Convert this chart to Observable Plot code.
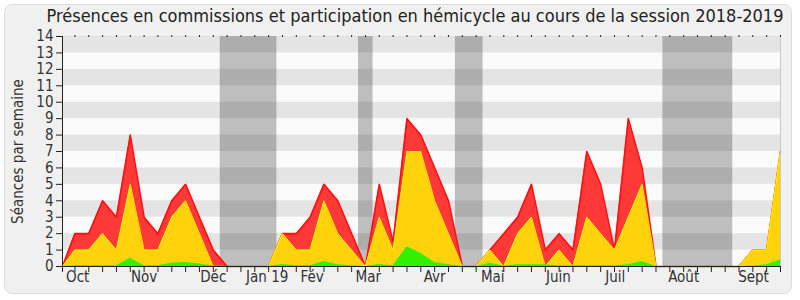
<!DOCTYPE html>
<html><head><meta charset="utf-8">
<script src="https://cdn.jsdelivr.net/npm/d3@7"></script>
<script src="https://cdn.jsdelivr.net/npm/@observablehq/plot@0.6"></script>
<style>
body{margin:0;background:#fff;}
#wrap{position:relative;width:800px;height:300px;overflow:hidden;}
#frame{position:absolute;left:4px;top:4px;width:788px;height:290px;border:1px solid #dcdcdc;border-radius:8px;background:#f0f0f0;box-sizing:border-box;}
#title{position:absolute;left:0;top:5px;width:830px;text-align:center;font-family:"DejaVu Sans Condensed","DejaVu Sans";font-size:18px;color:#222;white-space:nowrap;}
#chart{position:absolute;left:0;top:0;}
</style></head><body>
<div id="wrap"><div id="frame"></div><div id="title">Présences en commissions et participation en hémicycle au cours de la session 2018-2019</div><div id="chart"></div></div>
<script>
// Semaines (index de semaine ; le premier point est le début de session)
const semaines = [-0.9, ...d3.range(0, 52)];
// Total (rouge)
const total = [0,
  2,2,4,3,8,3,2,4,5,3,1,
  0,0,0,0,
  2,2,3,5,4,2,
  0,
  5,1.5,9,8,6,4,
  0,0,
  1,2,3,5,1,2,1,7,5,1,9,6,
  0,0,0,0,0,0,0,
  1,1,7];
// Présences en commission (jaune)
const commission = [0,
  1,1,2,1,5,1,1,3,4,2,0,
  0,0,0,0,
  2,1,1,4,2,1,
  0,
  3,1,7,7,4,2,
  0,0,
  1,0,2,3,0,1,0,3,2,1,3,5,
  0,0,0,0,0,0,0,
  1,1,7];
// Participation en hémicycle (vert)
const hemicycle = [0,
  0.05,0.05,0.05,0.05,0.5,0.05,0.05,0.2,0.25,0.15,0.03,
  0,0,0,0,
  0.12,0.05,0.05,0.3,0.1,0.05,
  0,
  0.12,0.05,1.2,0.8,0.25,0.1,
  0,0,
  0.2,0.03,0.1,0.1,0.1,0.05,0.05,0.05,0.05,0.05,0.1,0.3,
  0,0,0,0,0,0,0,
  0.03,0.1,0.4];
// Vacances parlementaires (début, fin en semaines)
const vacancesDebut = [10.5, 20.5, 27.5, 42.5];
const vacancesFin = [14.6, 21.55, 29.5, 47.55];
// Mois
const moisNoms = ["Oct","Nov","Déc","Jan 19","Fév","Mar","Avr","Mai","Juin","Juil","Août","Sept"];
const moisPos = [0.2, 5, 10, 13.9, 17.15, 21.2, 26, 30.2, 34.95, 39.05, 44, 49.05];
const yTicks = d3.range(0, 15);
const bandes = [1,3,5,7,9,11,13];

const rows = semaines.map((s, i) => ({s, total: total[i], com: commission[i], hem: hemicycle[i]}));
const vacances = vacancesDebut.map((d, i) => ({a: d, b: vacancesFin[i]}));
const mois = moisNoms.map((n, i) => ({n, p: moisPos[i]}));
const weekTicks = d3.range(0, 52);

const font = '"DejaVu Sans Condensed","DejaVu Sans",sans-serif';
const chart = Plot.plot({
  width: 800, height: 300,
  marginLeft: 62, marginRight: 20, marginTop: 36, marginBottom: 34,
  x: {domain: [-0.9, 51], axis: null},
  y: {domain: [0, 14], axis: null},
  style: {fontFamily: font, fontSize: "15px", color: "#333", background: "transparent", overflow: "visible"},
  marks: [
    Plot.frame({fill: "#fafafa", stroke: null}),
    Plot.rect(vacances, {x1: "a", x2: "b", fill: "#bebebe"}),
    Plot.rect(bandes, {y1: d => d, y2: d => d + 1, fill: "#000", fillOpacity: 0.085}),
    Plot.areaY(rows, {x: "s", y1: 0, y2: "total", fill: "#ff3838"}),
    Plot.lineY(rows, {x: "s", y: "total", stroke: "#ff1010", strokeWidth: 1.6}),
    Plot.areaY(rows, {x: "s", y1: 0, y2: "com", fill: "#ffd30c"}),
    Plot.lineY(rows, {x: "s", y: "com", stroke: "#ffee00", strokeWidth: 1}),
    Plot.areaY(rows, {x: "s", y1: 0, y2: "hem", fill: "#33f000"}),
    Plot.ruleX([51], {stroke: "#c8c8c8"}),
    Plot.ruleY([0], {stroke: "#222"}),
    Plot.ruleX([-0.9], {stroke: "#222"}),
    Plot.axisX({anchor: "bottom", ticks: [-0.9, ...weekTicks], tickSize: 6, tickFormat: () => "", stroke: "#222"}),
    Plot.axisX({anchor: "top", ticks: weekTicks, tickSize: 2, tickFormat: () => "", stroke: "#222"}),
    Plot.axisY({ticks: yTicks, tickSize: 6, tickPadding: 3, stroke: "#222", fill: "#333", fontSize: 15, label: null}),
    Plot.text(mois, {x: "p", frameAnchor: "bottom", text: "n", dy: 5, lineAnchor: "top", fill: "#333", fontSize: 15}),
    Plot.text(["Séances par semaine"], {frameAnchor: "left", rotate: -90, dx: -44, textAnchor: "middle", fill: "#333", fontSize: 15})
  ]
});
document.getElementById("chart").appendChild(chart);
</script>
</body></html>
